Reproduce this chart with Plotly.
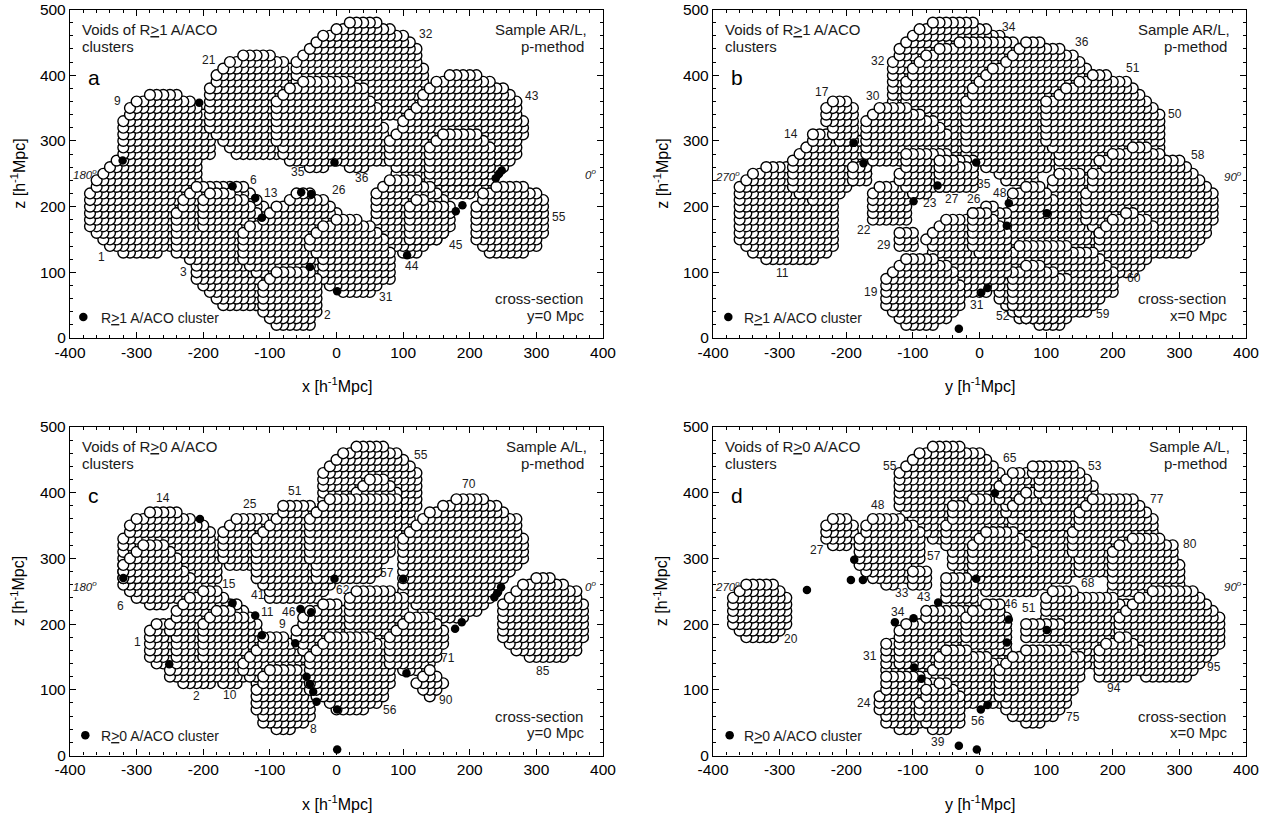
import plotly.graph_objects as go

# Void footprints: (lowest z row, [(x_left, x_right), ... one entry per z row going upward]); units of 10 Mpc
A_VOIDS = [
 (13, [(-32,-27),(-34,-25),(-35,-25),(-36,-25),(-37,-25),(-37,-24),(-37,-24),(-37,-24),(-37,-24),(-37,-22),(-36,-21),(-36,-21),(-35,-21),(-34,-21),(-33,-21)]),
 (28, [(-32,-19),(-32,-19),(-32,-19),(-32,-19),(-32,-19),(-32,-20),(-31,-20),(-31,-21),(-30,-22),(-28,-24)]),
 (28, [(-15,-9),(-16,-7),(-17,-5),(-18,-5),(-19,-5),(-19,-5),(-19,-5),(-19,-5),(-19,-5),(-19,-5),(-19,-5),(-18,-5),(-18,-6),(-17,-7),(-16,-8),(-14,-10)]),
 (34, [(-5,12),(-5,12),(-5,13),(-5,13),(-6,13),(-6,13),(-6,13),(-6,13),(-6,12),(-5,12),(-4,12),(-3,11),(-2,10),(0,8),(2,6)]),
 (26, [(-4,-2,2,4),(-7,7),(-8,7),(-8,7),(-9,7),(-9,7),(-9,7),(-9,6),(-9,6),(-9,6),(-9,5),(-8,4),(-7,4),(-5,2)]),
 (22, [(14,20),(12,22),(10,23),(9,24),(9,25),(8,26),(8,27),(8,27),(8,27),(9,28),(10,28),(10,28),(11,27),(12,27),(13,27),(13,26),(14,25),(15,23),(17,21)]),
 (24, [(14,21),(14,22),(14,23),(14,23),(14,23),(14,23),(15,22),(16,21)]),
 (13, [(10,12),(8,13),(7,15),(6,16),(6,17),(6,17),(6,17),(6,17),(6,16),(6,15),(7,14),(8,12)]),
 (15, [(11,15),(11,16),(11,16),(11,16),(11,16),(11,16),(12,13)]),
 (13, [(23,28),(22,30),(21,30),(21,31),(21,31),(21,31),(21,31),(21,31),(22,31),(22,30),(24,28)]),
 (5,  [(-17,-12),(-18,-11),(-19,-10),(-20,-9),(-21,-8),(-21,-8),(-21,-7),(-22,-8),(-24,-8),(-24,-8),(-24,-8),(-24,-8),(-24,-8),(-24,-8),(-24,-11),(-23,-11),(-23,-12),(-22,-13),(-21,-14)]),
 (17, [(-20,-12),(-20,-12),(-20,-12),(-20,-13),(-20,-14),(-19,-16)]),
 (10, [(-12,-8),(-13,-3),(-14,-3),(-14,-1),(-14,-1),(-14,-1),(-14,-1),(-13,-1),(-11,-1),(-10,0),(-9,-1),(-7,-2),(-6,-4)]),
 (7,  [(1,5),(-1,6),(-2,8),(-2,8),(-2,8),(-2,8),(-3,8),(-4,7),(-4,7),(-3,6),(-2,5),(0,3)]),
 (2,  [(-9,-4),(-10,-4),(-11,-3),(-11,-3),(-11,-3),(-11,-3),(-11,-3),(-10,-3),(-9,-4)]),
]
B_VOIDS = [
 (12, [(-32,-25),(-34,-23),(-35,-22),(-36,-22),(-36,-22),(-36,-22),(-36,-22),(-36,-22),(-36,-22),(-36,-22),(-36,-23),(-36,-26),(-35,-26),(-34,-28),(-32,-29)]),
 (21, [(-25,-23),(-27,-21),(-28,-20),(-28,-19),(-28,-17),(-28,-17),(-28,-17),(-27,-18),(-26,-18),(-25,-18),(-25,-22)]),
 (24, [(-19,-17),(-19,-17),(-19,-17)]),
 (30, [(-21,-19),(-22,-19),(-22,-19),(-23,-19),(-23,-19),(-23,-19),(-22,-20)]),
 (18, [(-16,-11),(-16,-11),(-16,-11),(-16,-11),(-16,-11),(-15,-12)]),
 (14, [(-12,-10),(-12,-10),(-12,-10)]),
 (28, [(-13,-1),(-13,-1),(-13,-1),(-13,-1),(-13,-1),(-13,-1),(-13,-1),(-13,-1),(-13,2),(-13,4),(-13,5),(-13,6),(-13,6),(-13,6),(-13,6),(-12,5),(-12,5),(-11,4),(-10,3),(-9,1)]),
 (48, [(-7,-1)]),
 (28, [(-8,-1),(-11,-1),(-11,-1),(-11,0),(-11,0),(-11,0),(-11,1),(-11,1),(-11,2),(-11,3),(-11,7),(-11,8),(-10,8),(-10,7),(-9,7),(-8,6),(-6,6),(-3,5)]),
 (24, [(4,8),(3,8),(1,10),(-1,19),(-2,20),(-2,20),(-2,20),(-2,20),(-2,20),(-2,20),(-2,20),(-2,20),(-2,20),(-1,20),(-1,19),(0,18),(1,17),(2,16),(4,15),(5,14),(6,12),(7,9)]),
 (25, [(12,26),(12,27),(12,27),(12,27),(11,27),(10,27),(10,27),(10,27),(10,27),(10,27),(10,26),(10,25),(12,24),(13,23),(15,22),(17,19)]),
 (27, [(-16,-12),(-17,-8),(-17,-5),(-17,-5),(-17,-5),(-17,-6),(-17,-7),(-16,-9),(-15,-11)]),
 (22, [(-10,-8),(-11,-5),(-12,-1),(-12,-1),(-11,-1),(-11,-1),(-11,-5)]),
 (23, [(-6,-1),(-6,-1),(-6,-1),(-6,-1),(-6,-4)]),
 (12, [(11,18),(11,19),(11,19),(11,19),(11,19),(11,19),(11,19),(11,19),(11,19),(11,19),(11,19),(11,19),(11,17),(12,15)]),
 (15, [(5,11),(5,11),(5,11),(5,11),(5,11),(5,11),(5,11),(5,10),(7,9)]),
 (13, [(23,31),(20,32),(19,33),(18,34),(17,34),(16,35),(16,35),(16,35),(16,35),(16,35),(17,34),(17,33),(17,32),(19,31),(18,30),(20,27),(23,25)]),
 (10, [(21,23),(20,24),(19,25),(18,25),(18,25),(18,26),(18,26),(19,26),(20,25),(22,23)]),
 (2,  [(9,12),(6,13),(5,16),(4,17),(3,18),(3,20),(3,20),(3,20),(3,20),(3,19),(4,18),(5,17),(6,13)]),
 (3,  [(7,11),(6,12),(5,13),(5,13),(5,13),(5,13),(5,13),(5,11),(7,9)]),
 (7,  [(-3,1),(-5,2),(-5,3),(-7,4),(-7,4),(-7,4),(-7,4),(-7,4),(-8,4),(-7,4),(-6,4),(-5,4),(-1,4),(1,2)]),
 (13, [(0,3),(-1,4),(-1,4),(-1,4),(-1,3),(-1,2),(-1,1)]),
 (2,  [(-11,-7),(-12,-5),(-13,-4),(-14,-3),(-14,-3),(-14,-3),(-14,-3),(-14,-4),(-13,-4),(-12,-5),(-11,-7)]),
]
C_VOIDS = [
 (23, [(-28,-26),(-30,-23),(-31,-21),(-32,-19),(-32,-18),(-32,-18),(-32,-18),(-32,-18),(-32,-18),(-32,-18),(-32,-19),(-31,-19),(-31,-20),(-30,-22),(-28,-24)]),
 (27, [(-32,-22),(-32,-23),(-32,-24),(-31,-24),(-30,-25),(-29,-26)]),
 (14, [(-27,-24),(-28,-22),(-28,-22),(-28,-22),(-28,-22),(-28,-22),(-27,-25)]),
 (11, [(-23,-19,-17,-15),(-25,-14),(-25,-13),(-24,-13),(-24,-13),(-24,-12),(-24,-12),(-24,-12),(-25,-12),(-25,-12),(-24,-13),(-24,-14),(-23,-15),(-22,-17),(-20,-18)]),
 (15, [(-20,-14),(-20,-14),(-20,-14),(-20,-14),(-20,-14),(-20,-14),(-19,-14),(-18,-16)]),
 (11, [(-12,-8),(-13,-6),(-14,-5),(-14,-5),(-13,-5),(-12,-5),(-11,-6),(-11,-8)]),
 (4,  [(-9,-7),(-11,-5),(-11,-4),(-12,-4),(-12,-4),(-12,-4),(-12,-4),(-11,-4),(-11,-5),(-10,-5)]),
 (29, [(-16,-10),(-17,-10),(-17,-10),(-17,-10),(-17,-10),(-17,-10),(-16,-9),(-15,-9)]),
 (24, [(-10,-3),(-10,-2),(-11,-1),(-12,-1),(-12,-1),(-12,-1),(-12,-1),(-12,-1),(-12,-1),(-12,-1),(-11,-1),(-10,-1),(-9,-2),(-8,-3),(-8,-4)]),
 (34, [(1,9),(1,10),(0,11),(-2,11),(-2,12),(-2,12),(-2,12),(-2,12),(-2,12),(-2,12),(-1,11),(0,10),(1,9),(3,7)]),
 (35, [(3,9),(3,9),(3,9),(3,9),(3,9),(3,9),(4,8),(5,7)]),
 (27, [(-3,5),(-3,6),(-3,6),(-4,7),(-4,8),(-4,8),(-4,8),(-4,8),(-4,8),(-4,8),(-3,8),(-2,9),(-1,9)]),
 (21, [(13,19),(13,21),(12,22),(11,23),(10,24),(10,24),(10,25),(10,26),(10,27),(10,28),(10,28),(10,28),(10,28),(11,27),(12,27),(13,27),(14,25),(16,24),(18,22)]),
 (15, [(29,34),(27,36),(26,36),(25,37),(25,37),(25,37),(25,37),(25,37),(25,37),(26,36),(27,36),(28,34),(30,32)]),
 (16, [(-5,-3),(-5,-2),(-6,-1),(-6,2),(-5,2),(-5,2),(-4,2),(-2,0)]),
 (18, [(3,7),(2,10),(2,10),(2,10),(2,10),(2,10),(2,10),(3,8)]),
 (7,  [(0,4),(-1,6),(-3,7),(-4,7),(-4,8),(-4,8),(-4,8),(-4,8),(-4,8),(-3,8),(-2,7),(-1,5)]),
 (13, [(10,12),(8,14),(8,15),(8,15),(8,16),(8,16),(9,16),(10,15),(11,14)]),
 (9,  [(14,14),(13,15),(12,16),(13,15),(14,14)]),
]
D_VOIDS = [
 (18, [(-35,-31),(-36,-30),(-37,-29),(-37,-29),(-37,-29),(-37,-29),(-37,-29),(-36,-30),(-35,-31)]),
 (32, [(-22,-20),(-23,-19),(-23,-19),(-23,-19),(-22,-20)]),
 (33, [(-7,-3),(-8,-3),(-9,-1),(-10,3),(-11,3),(-12,3),(-12,3),(-12,3),(-12,3),(-12,3),(-12,3),(-11,2),(-10,1),(-9,0),(-7,-3)]),
 (26, [(-14,-13),(-16,-10),(-17,-10),(-18,-10),(-18,-9),(-18,-9),(-18,-9),(-18,-9),(-17,-9),(-17,-10),(-16,-12)]),
 (26, [(-10,-8),(-10,-8),(-10,-8)]),
 (25, [(1,8),(0,10),(-1,13),(-3,15),(-4,15),(-4,15),(-4,15),(-5,15),(-5,15),(-5,15),(-5,15),(-4,15),(-4,15),(-4,15),(-1,3)]),
 (35, [(5,16),(5,16),(4,16),(4,16),(3,15),(3,14),(3,13),(4,12),(5,10)]),
 (38, [(5,12),(6,12),(7,9)]),
 (39, [(10,17),(9,17),(9,17),(9,16),(8,15),(8,14)]),
 (28, [(-1,8),(-1,8),(-1,8),(-1,8),(-1,7),(0,6),(1,5)]),
 (28, [(15,19),(15,19),(15,20),(14,21),(14,21),(14,26),(14,26),(15,26),(15,26),(15,25),(16,24),(17,23)]),
 (25, [(20,30),(20,30),(20,30),(20,30),(20,30),(20,29),(20,29),(21,29),(23,27)]),
 (14, [(15,18),(13,20),(13,20),(13,20),(13,20),(10,22),(10,22),(10,22),(10,22),(10,22),(10,20),(11,14)]),
 (12, [(25,31),(24,32),(23,33),(22,34),(21,35),(21,36),(21,36),(21,36),(21,36),(21,36),(22,35),(23,34),(24,33),(26,32)]),
 (12, [(18,22),(18,24),(18,24),(18,24),(18,24),(19,23),(21,22)]),
 (18, [(7,12),(7,12),(7,12)]),
 (20, [(-5,-1),(-5,-1),(-5,-1),(-5,-1),(-5,-1),(-5,-1),(-5,-1),(-5,-2)]),
 (12, [(-12,-5),(-14,-4),(-14,-3),(-14,-3),(-14,-3),(-14,-8)]),
 (14, [(-12,3),(-12,4),(-12,4),(-12,4),(-12,4),(-12,4),(-11,4),(-8,3),(-8,3)]),
 (16, [(-1,4),(-2,4),(-2,4),(-2,4),(-2,4),(-2,4),(-1,3),(1,3)]),
 (8,  [(-3,3),(-4,3),(-5,3),(-7,3),(-8,3),(-7,3),(-6,3),(-6,1),(-5,-2)]),
 (4,  [(-12,-10),(-14,-6),(-14,-4),(-15,-4),(-15,-4),(-15,-4),(-14,-6),(-14,-7),(-14,-9)]),
 (4,  [(-7,-5),(-8,-3),(-9,-3),(-9,-3),(-9,-3),(-8,-3),(-8,-4),(-6,-5)]),
 (5,  [(7,9),(5,11),(4,12),(4,13),(3,13),(3,14),(3,14),(3,15),(3,15),(4,15),(5,15),(7,13)]),
]

# Clusters (x or y, z) in Mpc
A_CLUSTERS_X = [-321,-206,-156,-122,-112,-53,-38,-40,1,-3,106,179,189,239,244,248,-380]
A_CLUSTERS_Z = [270,358,231,213,183,222,219,108,71,267,126,193,202,243,250,255,32]
B_CLUSTERS_X = [-189,-174,-99,-63,-5,44,41,101,2,12,-31,-377]
B_CLUSTERS_Z = [297,266,208,232,267,205,171,190,69,76,14,32]
C_CLUSTERS_X = [-320,-205,-156,-122,-112,-54,-38,-62,-251,-45,-40,-35,-30,1,1,-3,100,105,178,188,237,241,247,-377]
C_CLUSTERS_Z = [270,360,232,213,183,223,218,171,139,120,109,97,82,70,9,269,269,125,193,203,241,247,256,31]
D_CLUSTERS_X = [-259,-193,-175,-188,23,-5,-62,-99,-127,44,41,101,-98,-87,2,12,-31,-4,-375]
D_CLUSTERS_Z = [252,267,267,298,399,269,233,209,203,207,172,191,134,117,70,77,15,9,31]

# Void numbers (text, x, z)
A_LABELS = [("21",-191,423),("9",-329,361),("43",294,368),("32",134,463),("35",-58,253),("36",39,244),("6",-125,240),
            ("13",-98,221),("26",4,226),("1",-352,124),("3",-230,100),("2",-14,35),("31",75,63),("44",114,110),("45",180,142),("55",334,184)]
B_LABELS = [("17",-236,375),("14",-283,310),("30",-160,368),("32",-152,422),("34",44,473),("36",154,451),("51",231,411),
            ("50",294,341),("58",328,278),("11",-295,99),("22",-174,164),("29",-143,141),("23",-75,205),("27",-42,211),
            ("26",-9,211),("48",31,220),("35",7,234),("19",-163,70),("31",-4,50),("52",35,33),("59",186,36),("60",232,92)]
C_LABELS = [("14",-261,392),("25",-130,383),("51",-63,403),("55",127,458),("70",199,413),("15",-162,261),("41",-118,245),
            ("62",10,252),("57",76,278),("11",-104,218),("46",-72,219),("9",-81,200),("6",-324,228),("1",-299,173),
            ("2",-210,91),("10",-160,92),("8",-34,40),("56",80,70),("71",167,149),("90",165,84),("85",310,129)]
D_LABELS = [("55",-135,441),("65",46,453),("53",174,441),("48",-152,381),("77",267,391),("80",316,322),("27",-244,313),
            ("57",-69,304),("68",163,263),("33",-116,248),("43",-84,241),("46",48,231),("51",74,224),("34",-122,219),
            ("31",-164,152),("20",-283,178),("24",-174,80),("56",-2,53),("39",-62,20),("75",141,59),("94",202,102),("95",352,134)]

PANEL_LETTERS = ["a","b","c","d"]
HEADINGS = ["Voids of R<u>></u>1 A/ACO","Voids of R<u>></u>1 A/ACO","Voids of R<u>></u>0 A/ACO","Voids of R<u>></u>0 A/ACO"]
SAMPLES = ["Sample AR/L,","Sample AR/L,","Sample A/L,","Sample A/L,"]
LEGENDS = ["R<u>></u>1 A/ACO cluster","R<u>></u>1 A/ACO cluster","R<u>></u>0 A/ACO cluster","R<u>></u>0 A/ACO cluster"]
SECTIONS = ["y=0 Mpc","x=0 Mpc","y=0 Mpc","x=0 Mpc"]
XTITLES = ["x [h<sup>-1</sup>Mpc]","y [h<sup>-1</sup>Mpc]","x [h<sup>-1</sup>Mpc]","y [h<sup>-1</sup>Mpc]"]
ANGLE_LEFT = ["180","270","180","270"]
ANGLE_RIGHT = ["0","90","0","90"]
ANGLE_Z = [249,247,258,258]
X_TICKS = [-400,-300,-200,-100,0,100,200,300,400]
X_TICK_TEXT = ["-400","-300","-200","-100","0","100","200","300","400"]
Z_TICKS = [0,100,200,300,400,500]
Z_TICK_TEXT = ["0","100","200","300","400","500"]

W, H = 1273, 818
FRAMES = [(70,603,9.5,338),(713,1246,9.5,338),(70,603,427,755.5),(713,1246,427,755.5)]
FONT = "Liberation Sans"
INK = "#1a1a1a"

fig = go.Figure()
panels = [(A_VOIDS,A_CLUSTERS_X,A_CLUSTERS_Z,A_LABELS),(B_VOIDS,B_CLUSTERS_X,B_CLUSTERS_Z,B_LABELS),
          (C_VOIDS,C_CLUSTERS_X,C_CLUSTERS_Z,C_LABELS),(D_VOIDS,D_CLUSTERS_X,D_CLUSTERS_Z,D_LABELS)]
ann = []
for i,(voids,cx,cz,labels) in enumerate(panels):
    sfx = "" if i==0 else str(i+1)
    xa, ya = "x"+sfx, "y"+sfx
    l,r,t,b = FRAMES[i]
    xs, zs = [], []
    for z0, rows in voids:
        for k,row in enumerate(rows):
            for s in range(len(row)//2-1,-1,-1):
                for col in range(row[2*s+1], row[2*s]-1, -1):
                    xs.append(col*10); zs.append((z0+k)*10)
    fig.add_trace(go.Scatter(x=xs,y=zs,mode="markers",xaxis=xa,yaxis=ya,hoverinfo="skip",showlegend=False,
                             marker=dict(size=10.8,color="white",line=dict(color="black",width=1.4))))
    fig.add_trace(go.Scatter(x=cx,y=cz,mode="markers",xaxis=xa,yaxis=ya,hoverinfo="skip",showlegend=False,
                             marker=dict(size=8.5,color="black")))
    axis = dict(showgrid=False,zeroline=False,showline=True,linecolor="black",linewidth=1.3,mirror="allticks",
                ticks="inside",ticklen=6,tickwidth=1,tickcolor="black",automargin=False,
                minor=dict(ticks="inside",ticklen=3,tickwidth=1,tickcolor="black"),
                tickfont=dict(family=FONT,size=15.5,color="black"))
    fig.update_layout({
      ("xaxis"+sfx): dict(axis,range=[-400,400],tickvals=X_TICKS,ticktext=X_TICK_TEXT,domain=[l/W,r/W],anchor=ya,
                          minor=dict(axis["minor"],dtick=20)),
      ("yaxis"+sfx): dict(axis,range=[0,500],tickvals=Z_TICKS,ticktext=Z_TICK_TEXT,domain=[1-b/H,1-t/H],anchor=xa,
                          minor=dict(axis["minor"],dtick=20)),
    })
    ann.append(dict(text=XTITLES[i],x=(l+r)/2/W,y=1-(b+47)/H,xref="paper",yref="paper",showarrow=False,
                    font=dict(family=FONT,size=16,color="black"),xanchor="center",yanchor="middle"))
    ann.append(dict(text="z [h<sup>-1</sup>Mpc]",x=(l-52)/W,y=1-(t+b)/2/H,xref="paper",yref="paper",showarrow=False,textangle=-90,
                    font=dict(family=FONT,size=16,color="black"),xanchor="center",yanchor="middle"))
    def note(text,x,z,size=12,anchor="center",color=INK):
        ann.append(dict(text=text,x=x,y=z,xref=xa,yref=ya,showarrow=False,xanchor=anchor,yanchor="middle",
                        font=dict(family=FONT,size=size,color=color)))
    for text,x,z in labels:
        note(text,x,z)
    note(HEADINGS[i],-385,470,15,"left")
    note("clusters",-385,444,15,"left")
    note(SAMPLES[i],379,470,15,"right")
    note("p-method",374,444,15,"right")
    note("cross-section",373,60,15,"right")
    note(SECTIONS[i],376,35,15,"right")
    note(LEGENDS[i],-357,30,14,"left")
    note(PANEL_LETTERS[i],-364,396,21,"center","black")
    note("<i>%s<sup>o</sup></i>"%ANGLE_LEFT[i],-378,ANGLE_Z[i],11.5)
    note("<i>%s<sup>o</sup></i>"%ANGLE_RIGHT[i],381,ANGLE_Z[i],11.5)

fig.update_layout(width=W,height=H,margin=dict(l=0,r=0,t=0,b=0),plot_bgcolor="white",paper_bgcolor="white",
                  showlegend=False,annotations=ann)
fig.write_html("out.html",config=dict(displayModeBar=False),post_script="document.body.style.margin='0';")
